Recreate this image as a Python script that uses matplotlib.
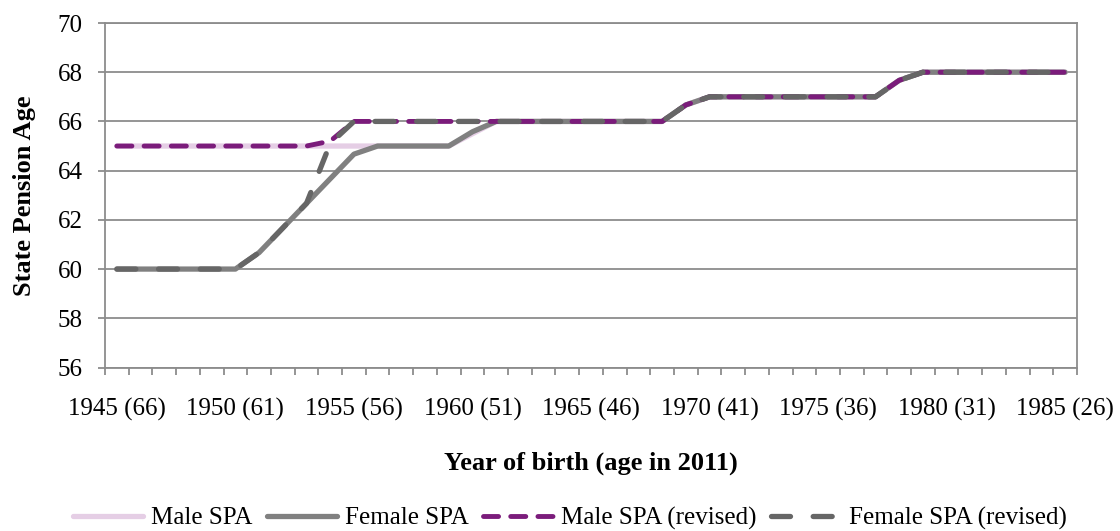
import matplotlib
matplotlib.use("Agg")
import matplotlib.pyplot as plt

plt.rcParams['font.family'] = ['Liberation Serif', 'DejaVu Serif']

years = list(range(1945, 1986))

male_spa = [65]*15 + [65.5] + [66]*8 + [66.67] + [67]*8 + [67.67] + [68]*7
female_spa = ([60]*6 + [60.67, 61.67, 62.67, 63.67, 64.67] + [65]*4 + [65.58]
              + [66]*8 + [66.67] + [67]*8 + [67.67] + [68]*7)
male_rev = [65]*9 + [65.2] + [66]*14 + [66.67] + [67]*8 + [67.67] + [68]*7
female_rev = ([60]*6 + [60.67, 61.67, 62.67, 65.1] + [66]*14 + [66.67]
              + [67]*8 + [67.67] + [68]*7)

label_years = [1945, 1950, 1955, 1960, 1965, 1970, 1975, 1980, 1985]
tick_labels = ["1945 (66)", "1950 (61)", "1955 (56)", "1960 (51)", "1965 (46)",
               "1970 (41)", "1975 (36)", "1980 (31)", "1985 (26)"]
y_ticks = [56, 58, 60, 62, 64, 66, 68, 70]
series_names = ["Male SPA", "Female SPA", "Male SPA (revised)", "Female SPA (revised)"]

c_pink = "#E5CEE5"
c_gray = "#808080"
c_purple = "#7B1C7B"
c_dark = "#666666"
c_axis = "#8C8C8C"

fig = plt.figure(figsize=(11.2, 5.31), dpi=100)
ax = fig.add_axes([105/1120, 1-367.5/531, (1077-105)/1120, (367.5-23)/531])

l1, = ax.plot(years, male_spa, color=c_pink, lw=3.8, solid_capstyle='round', solid_joinstyle='round', zorder=2)
l2, = ax.plot(years, female_spa, color=c_gray, lw=3.8, solid_capstyle='round', solid_joinstyle='round', zorder=3)
l3, = ax.plot(years, male_rev, color=c_purple, lw=3.5, dash_capstyle='round', dash_joinstyle='round', zorder=4)
l3.set_dashes((3.1, 2.5))
l4, = ax.plot(years, female_rev, color=c_dark, lw=3.8, dash_capstyle='round', dash_joinstyle='round', zorder=5)
l4.set_dashes((3.6, 4.3))

ax.set_xlim(1944.5, 1985.5)
ax.set_ylim(56, 70)
ax.set_yticks(y_ticks)
ax.yaxis.grid(True, color=c_axis, lw=1.3)
ax.set_axisbelow(True)

ax.set_xticks([y - 0.5 for y in years] + [years[-1] + 0.5])
ax.set_xticklabels([])
ax.set_xticks(label_years, minor=True)
ax.set_xticklabels(tick_labels, minor=True)
ax.tick_params(axis='x', which='major', direction='out', length=5, width=1.3, color=c_axis)
ax.tick_params(axis='x', which='minor', length=0, pad=22, labelsize=18)
ax.tick_params(axis='y', direction='out', length=5, width=1.3, color=c_axis, pad=11, labelsize=18)

for s in ax.spines.values():
    s.set_color(c_axis)
    s.set_linewidth(1.3)

ax.set_ylabel("State Pension Age", fontsize=19, fontweight='bold', labelpad=16)
ax.set_xlabel("Year of birth (age in 2011)", fontsize=19, fontweight='bold', labelpad=22)

handles = [l1, l2, l3, l4]
leg = fig.legend(handles, series_names, loc='lower center', bbox_to_anchor=(0.509, -0.04),
                 ncol=4, frameon=False, fontsize=18, handlelength=2.8,
                 handletextpad=0.3, columnspacing=0.6)

fig.savefig("out.png", dpi=100)
